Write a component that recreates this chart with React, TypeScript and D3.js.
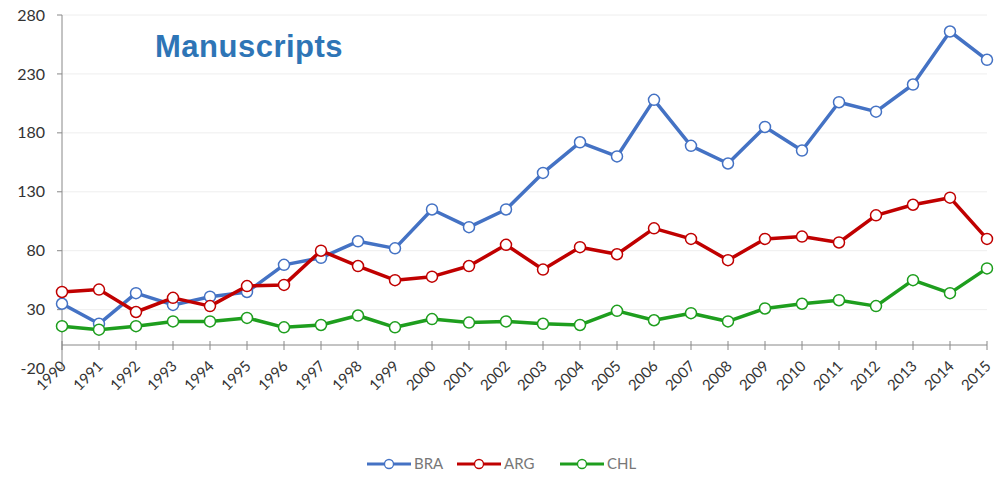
import React from "react";
import * as d3 from "d3";

const years = [1990,1991,1992,1993,1994,1995,1996,1997,1998,1999,2000,2001,2002,2003,2004,2005,2006,2007,2008,2009,2010,2011,2012,2013,2014,2015];
const bra = [35,18,44,34,41,45,68,74,88,82,115,100,115,146,172,160,208,169,154,185,165,206,198,221,266,242];
const arg = [45,47,28,40,33,50,51,80,67,55,58,67,85,64,83,77,99,90,72,90,92,87,110,119,125,90];
const chl = [16,13,16,20,20,23,15,17,25,15,22,19,20,18,17,29,21,27,20,31,35,38,33,55,44,65];
const yTicks = [-20,30,80,130,180,230,280];
const seriesNames = ["BRA","ARG","CHL"];
const seriesColors = ["#4472C4","#C00000","#1E9E1E"];
const title = "Manuscripts";

export default function App() {
  const W = 995, H = 478;
  const x = d3.scaleLinear().domain([1990, 2015]).range([62, 987]);
  const y = d3.scaleLinear().domain([0, 280]).range([345, 15]);
  const series = [bra, arg, chl];
  const line = d3.line<number>().x((_, i) => x(years[i])).y(d => y(d));
  const font = "Lato, 'Open Sans', sans-serif";
  const legendX = [367, 457, 560];
  return (
    <svg width={W} height={H} style={{ position: "absolute", left: 0, top: 0, background: "#fff" }} fontFamily={font}>
      {yTicks.map(t => (
        <g key={t}>
          {t > 0 && <line x1={62} x2={987} y1={y(t)} y2={y(t)} stroke="#eeeeee" strokeWidth={1} />}
          <line x1={57} x2={62} y1={y(t)} y2={y(t)} stroke="#888" />
          <text x={45} y={y(t)} dy="0.35em" textAnchor="end" fontSize={16} fill="#333">{t}</text>
        </g>
      ))}
      <line x1={62} x2={62} y1={y(280)} y2={y(-20)} stroke="#888" />
      <line x1={62} x2={987} y1={y(0)} y2={y(0)} stroke="#888" />
      {years.map(yr => (
        <g key={yr}>
          <line x1={x(yr)} x2={x(yr)} y1={y(0) - 4} y2={y(0) + 5} stroke="#888" />
          <text transform={`translate(${x(yr) + 5},${y(0) + 22}) rotate(-45)`} textAnchor="end" fontSize={15} fill="#333">{yr}</text>
        </g>
      ))}
      {series.map((s, k) => (
        <g key={k}>
          <path d={line(s) || ""} fill="none" stroke={seriesColors[k]} strokeWidth={3.5} strokeLinejoin="round" />
          {s.map((v, i) => (
            <circle key={i} cx={x(years[i])} cy={y(v)} r={5.5} fill="#fff" stroke={seriesColors[k]} strokeWidth={1.5} />
          ))}
        </g>
      ))}
      <text x={155} y={57} fontSize={31} letterSpacing={0.5} fontWeight="bold" fill="#2E75B6" fontFamily="'Liberation Sans', Arial, sans-serif">{title}</text>
      {seriesNames.map((n, k) => (
        <g key={n}>
          <line x1={legendX[k]} x2={legendX[k] + 44} y1={464} y2={464} stroke={seriesColors[k]} strokeWidth={3} />
          <circle cx={legendX[k] + 22} cy={464} r={4.5} fill="#fff" stroke={seriesColors[k]} strokeWidth={1.3} />
          <text x={legendX[k] + 47} y={464} dy="0.35em" fontSize={15} fill="#777">{n}</text>
        </g>
      ))}
    </svg>
  );
}
